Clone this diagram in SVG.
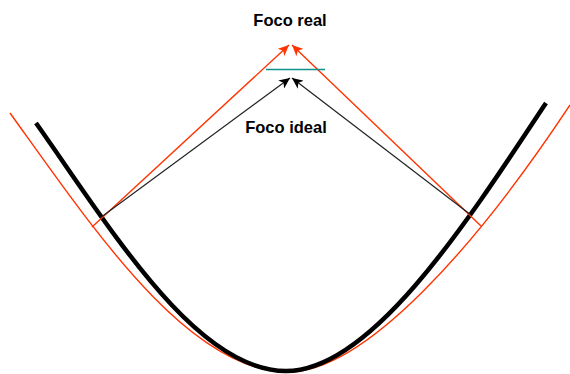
<svg xmlns="http://www.w3.org/2000/svg" width="570" height="374" viewBox="0 0 570 374">
<style>
.lbl{font-family:"Liberation Sans",Arial,sans-serif;font-weight:bold;font-size:16.5px;fill:#000;text-anchor:middle}
.red{fill:none;stroke:#FF3300;stroke-width:1.4}
.blk{fill:none;stroke:#000;stroke-width:4.5;stroke-linecap:butt}
.ray{fill:none;stroke:#222;stroke-width:1.2}
</style>
<defs>
<marker id="ar" markerUnits="userSpaceOnUse" markerWidth="12" markerHeight="10" refX="11" refY="5" orient="auto">
<path d="M0,0 L11,5 L0,10 L3,5 z" fill="#FF3300"/>
</marker>
<marker id="ab" markerUnits="userSpaceOnUse" markerWidth="12" markerHeight="10" refX="11" refY="5" orient="auto">
<path d="M0,0 L11,5 L0,10 L3,5 z" fill="#000"/>
</marker>
</defs>
<g id="red-curve">
<path class="red" d="M10,113 C92,227 188,372 288,372 C365,372 476,247 570,105"/>
</g>
<g id="ideal-curve">
<path class="blk" d="M36,123 C111,229 196,371 286,371 C370,371 463.5,228 546,103"/>
</g>
<g id="connectors">
<line class="red" x1="92" y1="227" x2="289" y2="45" marker-end="url(#ar)"/>
<line class="red" x1="481" y1="226" x2="292" y2="45" marker-end="url(#ar)"/>
<line class="ray" x1="100" y1="218" x2="290" y2="78" marker-end="url(#ab)"/>
<line class="ray" x1="471" y1="215" x2="292" y2="78" marker-end="url(#ab)"/>
<line x1="266" y1="69.5" x2="325" y2="69.5" stroke="#12908A" stroke-width="1.3"/>
</g>
<g id="foco-real"><text class="lbl" x="290" y="26">Foco real</text></g>
<g id="foco-ideal"><text class="lbl" x="286" y="133">Foco ideal</text></g>
</svg>
